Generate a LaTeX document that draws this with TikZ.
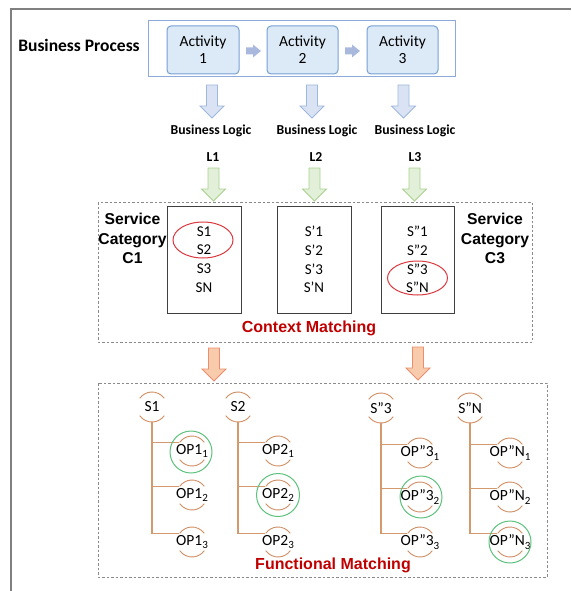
\documentclass[tikz,border=0pt]{standalone}
\usepackage{fontspec}
\setmainfont{Carlito}
\newfontfamily\arialfont{Liberation Sans}
\usetikzlibrary{calc}
\definecolor{actFill}{HTML}{DCE9F6}
\definecolor{actBorder}{HTML}{76A0D6}
\definecolor{bpBorder}{HTML}{8EAADB}
\definecolor{rArrFill}{HTML}{A9B9DE}
\definecolor{bArrFill}{HTML}{DAE3F3}
\definecolor{bArrLine}{HTML}{9FB6DF}
\definecolor{gArrFill}{HTML}{E2F0D9}
\definecolor{gArrLine}{HTML}{A9D18E}
\definecolor{oArrFill}{HTML}{F8CBAD}
\definecolor{oArrLine}{HTML}{EC8E6D}
\definecolor{arcCol}{HTML}{CF8E63}
\definecolor{branchCol}{HTML}{D4996C}
\definecolor{ringGreen}{HTML}{5CC17C}
\definecolor{ringRed}{HTML}{D9393F}
\definecolor{matchRed}{HTML}{C00000}
\definecolor{dashGrey}{HTML}{8A8A8A}
\definecolor{frameGrey}{HTML}{808080}
\newcommand\opsub[1]{\raisebox{-3.5pt}{\fontsize{11}{11}\selectfont #1}}
\tikzset{
  downarr/.pic={\draw[pic actions] (-5.5,0) -- (-5.5,-21) -- (-12,-21) -- (0,-33) -- (12,-21) -- (5.5,-21) -- (5.5,0) -- cycle;},
  rightarr/.pic={\fill[pic actions] (0,3.5) -- (7,3.5) -- (7,6.5) -- (15,0) -- (7,-6.5) -- (7,-3.5) -- (0,-3.5) -- cycle;},
  actbox/.style={draw=actBorder, fill=actFill, rounded corners=4pt, line width=1pt, minimum height=48pt, align=center, inner sep=0pt, font=\fontsize{15.5}{17}\selectfont},
  bparr/.style={fill=bArrFill, draw=bArrLine, line width=0.8pt},
  gparr/.style={fill=gArrFill, draw=gArrLine, line width=0.8pt},
  oparr/.style={fill=oArrFill, draw=oArrLine, line width=0.8pt},
  rparr/.style={fill=rArrFill},
  boldlabel/.style={font=\bfseries\fontsize{13.7}{15}\selectfont, inner sep=0pt},
  catlabel/.style={font=\arialfont\bfseries\fontsize{15.7}{19.5}\selectfont, align=center, inner sep=0pt},
  matchlabel/.style={font=\arialfont\bfseries\fontsize{16}{18}\selectfont, text=matchRed, inner sep=0pt},
  svcbox/.style={draw=black!75, line width=0.9pt, minimum width=74pt, minimum height=107pt, align=center, inner sep=0pt, font=\fontsize{15}{18.7}\selectfont},
  dashbox/.style={draw=dashGrey, line width=0.9pt, dash pattern=on 2.5pt off 2pt},
  opnode/.style={inner sep=0pt, font=\fontsize{15.5}{17}\selectfont},
  arcline/.style={draw=arcCol, line width=0.9pt},
  branch/.style={draw=branchCol, line width=1.2pt},
  greenring/.style={draw=ringGreen, line width=1pt},
  redring/.style={draw=ringRed, line width=1pt}
}
\newcommand\arcpair[1]{%
  \draw[arcline] ($(#1.center)+(35:15)$) arc[start angle=35,end angle=145,radius=15];
  \draw[arcline] ($(#1.center)+(215:15)$) arc[start angle=215,end angle=325,radius=15];}
\begin{document}
\begin{tikzpicture}[x=1pt,y=1pt]
\useasboundingbox (0,0) rectangle (571,-591);
% outer frame
\draw[frameGrey, line width=1.4pt] (11,-591) -- (11,-9) -- (571,-9);

% business process
\node[font=\bfseries\fontsize{17.5}{20}\selectfont, inner sep=0pt] (bp) at (79,-45) {Business Process};
\node[draw=bpBorder, line width=1pt, minimum width=307pt, minimum height=56pt, inner sep=0pt] (bprect) at (301.5,-49) {};
\node[actbox, minimum width=72pt] (act1) at (203,-50) {Activity\\1};
\node[actbox, minimum width=71pt] (act2) at (302.5,-50) {Activity\\2};
\node[actbox, minimum width=71pt] (act3) at (402.5,-50) {Activity\\3};
\pic[rparr] at (246,-51) {rightarr};
\pic[rparr] at (345,-51) {rightarr};

% blue arrows
\pic[bparr] at (212,-85) {downarr};
\pic[bparr] at (312,-85) {downarr};
\pic[bparr] at (403.5,-85) {downarr};

\node[boldlabel] (bl1) at (211,-131) {Business Logic};
\node[boldlabel] (bl2) at (317,-131) {Business Logic};
\node[boldlabel] (bl3) at (415,-131) {Business Logic};
\node[boldlabel] (l1) at (213,-157) {L1};
\node[boldlabel] (l2) at (316,-157) {L2};
\node[boldlabel] (l3) at (415,-157) {L3};

% green arrows
\pic[gparr] at (213.5,-168) {downarr};
\pic[gparr] at (314.5,-168) {downarr};
\pic[gparr] at (414.5,-168) {downarr};

% context matching
\draw[dashbox] (98,-202) rectangle (532,-342);
\node[svcbox] (box1) at (204,-259.5) {S1\\S2\\S3\\SN};
\node[svcbox] (box2) at (314,-259.5) {S’1\\S’2\\S’3\\S’N};
\node[svcbox, minimum width=73pt] (box3) at (417.5,-259.5) {S”1\\S”2\\S”3\\S”N};
\node[catlabel] (cat1) at (132.5,-238.5) {Service\\Category\\C1};
\node[catlabel] (cat3) at (495,-238.5) {Service\\Category\\C3};
\draw[redring] (203,-240) ellipse[x radius=30, y radius=18];
\draw[redring] (417.5,-278) ellipse[x radius=30, y radius=17];
\node[matchlabel] (cm) at (309,-328) {Context Matching};

% orange arrows
\pic[oparr] at (214,-348) {downarr};
\pic[oparr] at (418,-347) {downarr};

% functional matching
\draw[dashbox] (98,-383) rectangle (547,-577);
\node[matchlabel] (fm) at (333,-565) {Functional Matching};

\node[opnode] (s1) at (152,-407) {S1};
\node[opnode] (s2) at (238,-407) {S2};
\node[opnode] (s3) at (381,-408) {S”3};
\node[opnode] (sn) at (470,-408) {S”N};

\node[opnode] (op11) at (192,-451) {OP1\opsub{1}};
\node[opnode] (op12) at (192,-495) {OP1\opsub{2}};
\node[opnode] (op13) at (192,-542) {OP1\opsub{3}};
\node[opnode] (op21) at (278,-451) {OP2\opsub{1}};
\node[opnode] (op22) at (278,-495) {OP2\opsub{2}};
\node[opnode] (op23) at (278,-542) {OP2\opsub{3}};
\node[opnode] (op31) at (420,-453) {OP”3\opsub{1}};
\node[opnode] (op32) at (420,-497) {OP”3\opsub{2}};
\node[opnode] (op33) at (420,-542) {OP”3\opsub{3}};
\node[opnode] (opn1) at (510,-453) {OP”N\opsub{1}};
\node[opnode] (opn2) at (510,-497) {OP”N\opsub{2}};
\node[opnode] (opn3) at (510,-542) {OP”N\opsub{3}};

\foreach \n in {s1,s2,s3,sn,op11,op12,op13,op21,op22,op23,op31,op32,op33,opn1,opn2,opn3} {\arcpair{\n}}

\foreach \s/\a/\b/\c in {s1/op11/op12/op13, s2/op21/op22/op23, s3/op31/op32/op33, sn/opn1/opn2/opn3} {
  \draw[branch] ($(\s.center)+(0,-15)$) |- ($(\a.center)+(147:15)$);
  \draw[branch] ($(\s.center)+(0,-15)$) |- ($(\b.center)+(147:15)$);
  \draw[branch] ($(\s.center)+(0,-15)$) |- ($(\c.center)+(147:15)$);
}

\draw[greenring] ($(op11.center)+(-1,-1)$) circle[radius=21];
\draw[greenring] (op22.center) circle[radius=21.5];
\draw[greenring] ($(op32.center)+(1,0)$) circle[radius=21];
\draw[greenring] (opn3.center) circle[radius=21];
\end{tikzpicture}
\end{document}
